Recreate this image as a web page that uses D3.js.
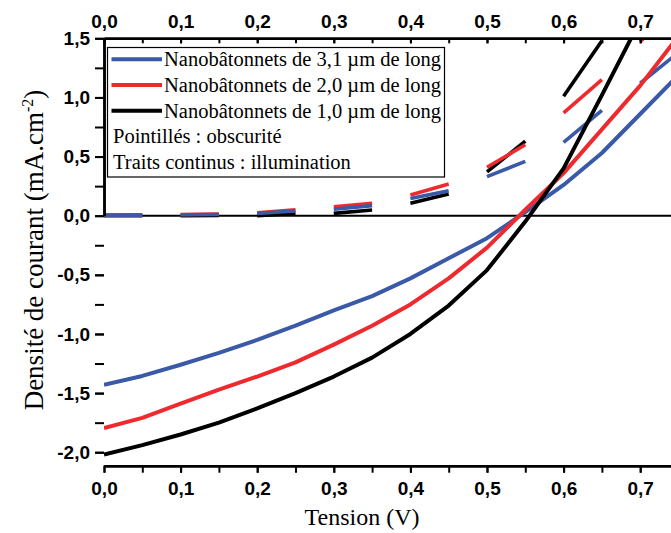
<!DOCTYPE html>
<html><head><meta charset="utf-8">
<script src="https://cdn.jsdelivr.net/npm/d3@7"></script>
<style>
html,body{margin:0;padding:0;background:#fff;}
svg{display:block;}
</style>
</head><body>
<svg id="chart" width="671" height="533"></svg>
<script>
// ---- data ----
const voltages = [0,0.05,0.1,0.15,0.2,0.25,0.3,0.35,0.4,0.45,0.5,0.55,0.6,0.65,0.7,0.75];
// illumination (solid)
const lightBlue  = [-1.43,-1.355,-1.26,-1.16,-1.05,-0.93,-0.80,-0.68,-0.53,-0.36,-0.19,0.03,0.26,0.53,0.86,1.19];
const lightRed   = [-1.795,-1.71,-1.59,-1.47,-1.36,-1.24,-1.09,-0.93,-0.75,-0.53,-0.27,0.05,0.36,0.73,1.10,1.52];
const lightBlack = [-2.02,-1.94,-1.85,-1.75,-1.63,-1.50,-1.36,-1.20,-1.00,-0.76,-0.46,-0.05,0.40,1.02,1.65,2.3];
// darkness (dashed)
const darkBlue  = [0.005,0.005,0.008,0.01,0.02,0.04,0.055,0.085,0.145,0.21,0.33,0.46,0.62,0.89,1.12,1.38];
const darkRed   = [0.005,0.008,0.01,0.015,0.025,0.05,0.076,0.105,0.175,0.268,0.41,0.60,0.87,1.15,1.47,1.8];
const darkBlack = [0,0,0,0.002,0.0,0.02,0.02,0.048,0.105,0.183,0.37,0.63,1.01,1.48,2.0,2.5];

const seriesNames = ["Nanobâtonnets de 3,1 µm de long","Nanobâtonnets de 2,0 µm de long","Nanobâtonnets de 1,0 µm de long"];
const seriesColors = ["#3a5aa8","#ee2a2e","#000000"];
const noteLines = ["Pointillés : obscurité","Traits continus : illumination"];
const xTickValues = [0,0.1,0.2,0.3,0.4,0.5,0.6,0.7];
const yTickValues = [-2,-1.5,-1,-0.5,0,0.5,1,1.5];
const xTitle = "Tension (V)";

// ---- layout ----
const svg = d3.select("#chart");
const L = 104, T = 38.3, B = 465.7;
const x = d3.scaleLinear().domain([0,0.75]).range([L, L + 0.75*766]);
const y = d3.scaleLinear().domain([1.5,0]).range([T, 215.7]);
const R = x(0.75);
const fmt = d => d3.format(".1f")(d).replace(".", ",").replace("−","-");

svg.append("defs").append("clipPath").attr("id","clip")
  .append("rect").attr("x",L).attr("y",T).attr("width",R-L).attr("height",B-T);

const plot = svg.append("g").attr("clip-path","url(#clip)");

// zero line
plot.append("line").attr("x1",L).attr("x2",R).attr("y1",y(0)).attr("y2",y(0))
  .attr("stroke","#000").attr("stroke-width",2);

const line = d3.line().x(d=>x(d[0])).y(d=>y(d[1]));

// dashed dark curves: drawn as alternate segments
const darkSets = [[darkBlack,2],[darkRed,1],[darkBlue,0]];
darkSets.forEach(([vals,ci])=>{
  const pts = voltages.map((v,i)=>[v,vals[i]]);
  const segs = [];
  for(let i=0;i+1<pts.length;i+=2) segs.push([pts[i],pts[i+1]]);
  plot.selectAll(null).data(segs).enter().append("path")
    .attr("d",line).attr("fill","none").attr("stroke",seriesColors[ci])
    .attr("stroke-width",3.6);
});

// solid curves
const lightSets = [[lightBlue,0],[lightRed,1],[lightBlack,2]];
lightSets.forEach(([vals,ci])=>{
  plot.append("path").datum(voltages.map((v,i)=>[v,vals[i]]))
    .attr("d",line).attr("fill","none").attr("stroke",seriesColors[ci])
    .attr("stroke-width",4).attr("stroke-linejoin","round");
});

// ---- axes ----
const tickFont = "bold 19px 'Liberation Sans', Arial, sans-serif";
const minorX = d3.range(0,0.76,0.05);
const minorY = d3.range(-2,1.51,0.25);

const gBottom = svg.append("g").attr("transform",`translate(0,${B})`);
gBottom.call(d3.axisBottom(x).tickValues(minorX).tickSize(7).tickSizeOuter(0).tickFormat(""));
gBottom.append("g").call(d3.axisBottom(x).tickValues(xTickValues).tickSize(7).tickSizeOuter(0).tickFormat(fmt))
  .selectAll("text").style("font",tickFont).attr("fill","#000").attr("dy","1.0em");

const gTop = svg.append("g").attr("transform",`translate(0,${T})`);
gTop.call(d3.axisTop(x).tickValues(minorX).tickSize(-5).tickSizeOuter(0).tickFormat(""));
gTop.append("g").call(d3.axisTop(x).tickValues(xTickValues).tickSize(-5).tickSizeOuter(0).tickPadding(10).tickFormat(fmt))
  .selectAll("text").style("font",tickFont).attr("fill","#000");

const gLeft = svg.append("g").attr("transform",`translate(${L},0)`);
gLeft.call(d3.axisLeft(y).tickValues(minorY).tickSize(9).tickSizeOuter(0).tickFormat(""));
gLeft.append("g").call(d3.axisLeft(y).tickValues(yTickValues).tickSize(9).tickSizeOuter(0).tickPadding(5).tickFormat(fmt))
  .selectAll("text").style("font",tickFont).attr("fill","#000");

[gBottom,gTop,gLeft].forEach(g=>{
  g.selectAll(".domain").attr("stroke-width",2.5);
  g.selectAll(".tick line").attr("stroke-width",2);
});

// ---- titles ----
const serif = "'Liberation Serif','Times New Roman',serif";
svg.append("text").attr("x",362).attr("y",525).attr("text-anchor","middle")
  .style("font-family",serif).style("font-size","24px").text(xTitle);

const yt = svg.append("text").attr("transform","translate(43,250) rotate(-90)")
  .attr("text-anchor","middle").style("font-family",serif).style("font-size","27px");
yt.append("tspan").text("Densité de courant (mA.cm");
yt.append("tspan").attr("dy",-10).style("font-size","16px").text("-2");
yt.append("tspan").attr("dy",10).text(")");

// ---- legend ----
const lg = svg.append("g");
lg.append("rect").attr("x",107.5).attr("y",47.5).attr("width",337).attr("height",129.5)
  .attr("fill","#fff").attr("stroke","#000").attr("stroke-width",1.2);
const rowY = [59.3, 85, 110.7];
seriesNames.forEach((n,i)=>{
  lg.append("line").attr("x1",111.5).attr("x2",162).attr("y1",rowY[i]).attr("y2",rowY[i])
    .attr("stroke",seriesColors[i]).attr("stroke-width",4);
  lg.append("text").attr("x",164).attr("y",rowY[i]+7).style("font-family",serif)
    .style("font-size","20.5px").text(n);
});
noteLines.forEach((n,i)=>{
  lg.append("text").attr("x",113).attr("y",143+i*25.5).style("font-family",serif)
    .style("font-size","20.5px").text(n);
});
</script>
</body></html>
